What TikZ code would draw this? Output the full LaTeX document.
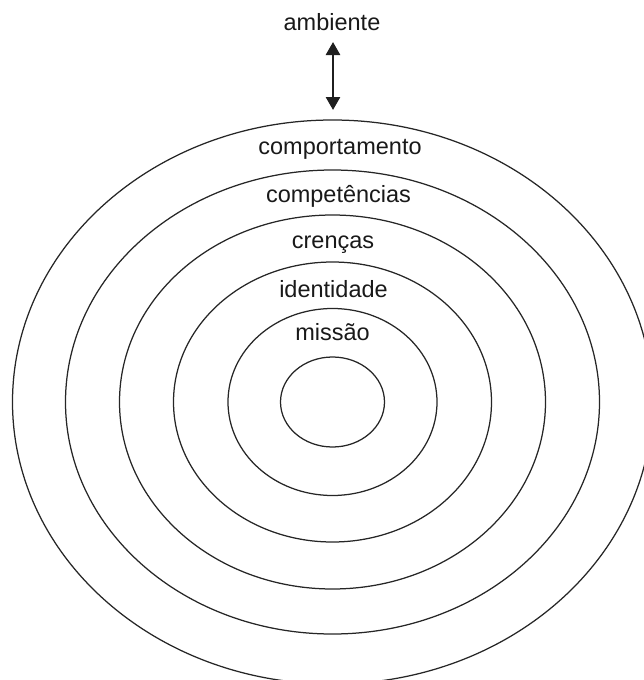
\documentclass[tikz,border=0pt]{standalone}
\usepackage{fontspec}
\setmainfont{Liberation Sans}
\usetikzlibrary{arrows.meta,shapes.geometric}
\begin{document}
\begin{tikzpicture}[x=1pt,y=-1pt,
  ring/.style={draw=black!85, line width=1.25pt, ellipse, inner sep=0pt},
  lbl/.style={anchor=base, inner sep=0pt, font=\fontsize{23.5}{27}\selectfont, text=black!90}]
\useasboundingbox (0,0) rectangle (643,680);
\coordinate (c) at (332.5,402);
\node[ring, minimum width=104pt, minimum height=90pt] (e1) at (c) {};
\node[ring, minimum width=209pt, minimum height=187pt] (e2) at (c) {};
\node[ring, minimum width=318pt, minimum height=280pt] (e3) at (c) {};
\node[ring, minimum width=426pt, minimum height=374pt] (e4) at (c) {};
\node[ring, minimum width=534pt, minimum height=464pt] (e5) at (c) {};
\node[ring, minimum width=640pt, minimum height=564pt] (e6) at (c) {};
\node[lbl] (amb) at (332,30) {ambiente};
\node[lbl] (l1) at (340,154) {comportamento};
\node[lbl] (l2) at (338.5,202) {competências};
\node[lbl] (l3) at (333,248) {crenças};
\node[lbl] (l4) at (333.5,297) {identidade};
\node[lbl] (l5) at (332.5,340) {missão};
\coordinate (atop) at (333,42);
\coordinate (abot) at (333,110);
\draw[line width=2.6pt, draw=black!88, {Triangle[length=13pt,width=14pt]}-{Triangle[length=13pt,width=14pt]}] (atop) -- (abot);
\end{tikzpicture}
\end{document}
